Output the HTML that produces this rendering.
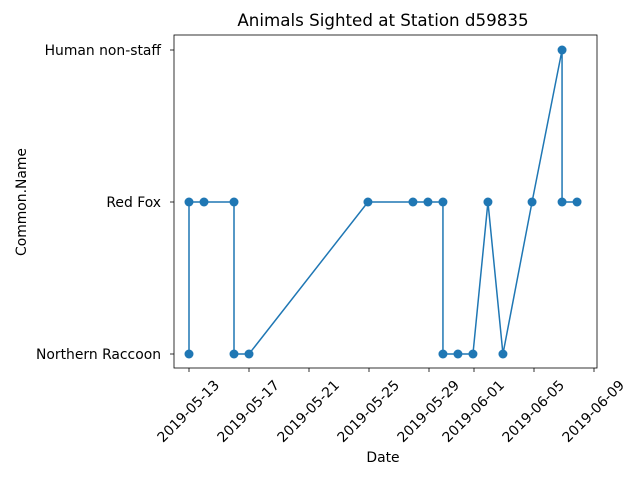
<!DOCTYPE html>
<html><head><meta charset="utf-8"><style>body{margin:0;background:#fff}svg{display:block;font-family:"DejaVu Sans","Liberation Sans",sans-serif}</style></head>
<body>
<svg id="chart" width="640" height="480"></svg>
<script>
const categories = ["Northern Raccoon","Red Fox","Human non-staff"];
const dayOffsets = [0,0,1,3,3,4,11.93,14.93,15.93,16.93,16.93,17.93,18.93,19.93,20.93,22.87,24.87,24.87,25.87];
const sightings = [0,1,1,1,0,0,1,1,1,1,0,0,0,1,0,1,2,1,1];
const tickDays = [0,4,8,12,16,19,23,27];
const tickLabels = ["2019-05-13","2019-05-17","2019-05-21","2019-05-25","2019-05-29","2019-06-01","2019-06-05","2019-06-09"];
const NS="http://www.w3.org/2000/svg";
const svg=document.getElementById('chart');
const L=174,R=597,T=35,B=368;
const x=d=>189+d*15;
const y=c=>354-c*152;
function mk(t,a,txt){const e=document.createElementNS(NS,t);for(const k in a)e.setAttribute(k,a[k]);if(txt!==undefined)e.textContent=txt;svg.appendChild(e);return e;}
const frame=mk('rect',{x:L,y:T,width:R-L,height:B-T,fill:'none',stroke:'#000','stroke-width':0.8});


tickDays.forEach((d,i)=>{
  const tk=mk('line',{x1:x(d),x2:x(d),y1:B,y2:B+4,stroke:'#000','stroke-width':0.8});
  
  
  const cx=x(d)-1, cy=B+43;
  const lb=mk('text',{x:cx,y:cy+5,'font-size':13.9,'text-anchor':'middle',transform:`rotate(-45 ${cx} ${cy})`},tickLabels[i]);
  
  
});
categories.forEach((c,i)=>{
  const tk=mk('line',{x1:L-4,x2:L,y1:y(i),y2:y(i),stroke:'#000','stroke-width':0.8});
  
  
  const lb=mk('text',{x:L-13,y:y(i)+5,'font-size':13.9,'text-anchor':'end'},c);
  
  
});
const pts=dayOffsets.map((d,i)=>x(d)+','+y(sightings[i])).join(' ');
const line=mk('polyline',{points:pts,fill:'none',stroke:'#1f77b4','stroke-width':1.5});


dayOffsets.forEach((d,i)=>{
  const p=mk('circle',{cx:x(d),cy:y(sightings[i]),r:4.5,fill:'#1f77b4'});
  
  
});
const t=mk('text',{x:383,y:26,'font-size':16.7,'text-anchor':'middle'},'Animals Sighted at Station d59835');


const xl=mk('text',{x:383,y:462,'font-size':13.9,'text-anchor':'middle'},'Date');


const yl=mk('text',{x:26,y:202,'font-size':13.9,'text-anchor':'middle',transform:'rotate(-90 26 202)'},'Common.Name');


</script>
</body></html>
